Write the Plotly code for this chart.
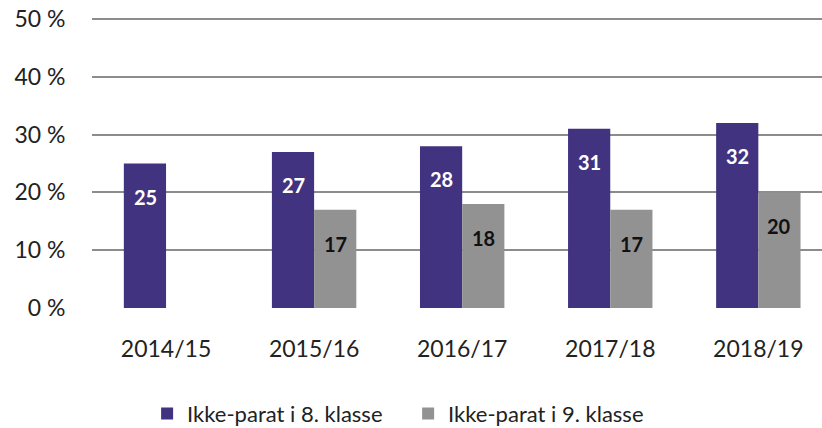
import plotly.graph_objects as go

categories = ["2014/15", "2015/16", "2016/17", "2017/18", "2018/19"]
series8 = [25, 27, 28, 31, 32]
series9 = [None, 17, 18, 17, 20]
name8 = "Ikke-parat i 8. klasse"
name9 = "Ikke-parat i 9. klasse"
yticks = [0, 10, 20, 30, 40, 50]
yticklabels = ["0 %", "10 %", "20 %", "30 %", "40 %", "50 %"]

purple = "#41337f"
grey = "#929292"
FONT = "Lato"

fig = go.Figure()
fig.add_trace(go.Bar(x=categories, y=series8, name=name8, marker=dict(color=purple, line=dict(width=0))))
fig.add_trace(go.Bar(x=categories, y=series9, name=name9, marker=dict(color=grey, line=dict(width=0))))

annotations = []
for i, c in enumerate(categories):
    if series8[i] is not None:
        annotations.append(dict(x=c, y=series8[i], xref="x", yref="y", text=str(series8[i]),
                                showarrow=False, xshift=-21, yshift=-33,
                                font=dict(family=FONT, size=20, color="white", weight="bold")))
    if series9[i] is not None:
        annotations.append(dict(x=c, y=series9[i], xref="x", yref="y", text=str(series9[i]),
                                showarrow=False, xshift=21, yshift=-34,
                                font=dict(family=FONT, size=20, color="#111111", weight="bold")))

fig.update_layout(
    width=822, height=428,
    margin=dict(l=92, r=0, t=16, b=120, autoexpand=False),
    paper_bgcolor="white", plot_bgcolor="white",
    barmode="group", bargap=0.43, bargroupgap=0,
    font=dict(family=FONT, size=23, color="#222222"),
    annotations=annotations,
    legend=dict(orientation="h", x=0.0755, xanchor="left", y=-0.29, yanchor="top",
                font=dict(family=FONT, size=22, color="#222222"),
                itemsizing="constant", tracegroupgap=0, itemwidth=30,
                entrywidthmode="pixels", entrywidth=216),
    showlegend=True,
)
fig.update_xaxes(type="category", range=[-0.5, 4.43], showgrid=False, showline=False, zeroline=False,
                 ticks="outside", ticklen=20, tickcolor="rgba(0,0,0,0)", tickfont=dict(family=FONT, size=23))
fig.update_yaxes(range=[0, 50.52], tickvals=yticks, ticktext=yticklabels, showgrid=True, gridcolor="#8c8c8c",
                 gridwidth=2, zeroline=False, showline=False,
                 ticks="outside", ticklen=21, tickcolor="rgba(0,0,0,0)", tickfont=dict(family=FONT, size=23))

fig.write_html("out.html")
